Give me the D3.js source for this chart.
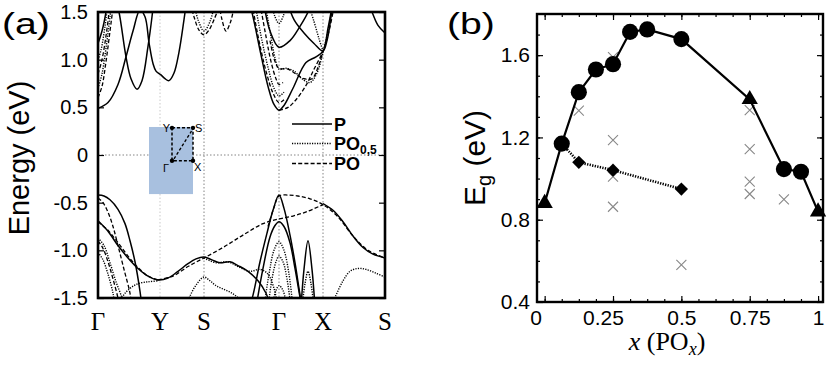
<!DOCTYPE html>
<html>
<head>
<meta charset="utf-8">
<title>Band structure and gap</title>
<script src="https://cdn.jsdelivr.net/npm/d3@7"></script>
<style>
  body { margin: 0; background: #fff; font-family: "Liberation Sans", Arial, sans-serif; }
</style>
</head>
<body>
<div id="chart"></div>
<script>
// ---------- panel (a): bands along the k-path (arb. path length) ----------
const kTicks  = [0, 62, 106, 181, 225, 287];
const kLabels = ["Γ", "Y", "S", "Γ", "X", "S"];
const eTicks  = [-1.5, -1.0, -0.5, 0, 0.5, 1.0, 1.5];

// P (solid)
const bandsP = [
  [[0,0.49],[10,0.55],[20,0.74],[28,1.03],[35,1.3],[42,1.52],[47,1.45],[51,1.18],[55,0.96],[58,0.88],[63,0.84],[67,0.8],[71,0.78],[76,0.86],[81,1.08],[86,1.42],[89,1.65]],
  [[16,1.7],[21,1.5],[28,1.03],[33,0.8],[39,0.69],[44,0.78],[50,1.14],[54,1.45],[56,1.65]],
  [[0,1.17],[4,1.3],[8,1.5],[10,1.65]],
  [[150,1.65],[155,1.45],[163,1.05],[170,0.72],[176,0.53],[181,0.47],[186,0.52],[195,0.7],[208,0.97],[218,1.03],[225,1.09],[230,1.33],[234,1.55],[236,1.65]],
  [[165,1.65],[172,1.3],[181,1.13],[192,1.2],[202,1.35],[210,1.5],[214,1.65]],
  [[188,1.65],[196,1.42],[206,1.28],[216,1.17],[225,1.09],[229,1.2],[233,1.45],[235,1.65]],
  [[268,1.65],[274,1.5],[280,1.36],[287,1.28]],
  [[0,-0.42],[6,-0.43],[12,-0.47],[20,-0.57],[27,-0.72],[32,-0.9],[37,-1.12],[42,-1.43],[44,-1.6]],
  [[0,-0.69],[10,-0.8],[20,-0.95],[30,-1.08],[40,-1.19],[50,-1.27],[60,-1.31],[70,-1.29],[80,-1.22],[90,-1.14],[98,-1.09],[106,-1.07],[114,-1.1],[122,-1.13],[132,-1.12],[140,-1.16],[150,-1.22],[160,-1.32],[168,-1.45],[174,-1.65]],
  [[150,-1.65],[155,-1.47],[162,-1.12],[169,-0.82],[175,-0.58],[181,-0.42],[186,-0.56],[192,-0.84],[197,-1.13],[201,-1.4],[204,-1.6]],
  [[158,-1.6],[165,-1.19],[172,-0.86],[177,-0.74],[181,-0.7],[186,-0.75],[192,-0.92],[197,-1.19],[203,-1.55],[205,-1.65]],
  [[203,-1.6],[206,-1.2],[210,-0.9],[214,-1.2],[217,-1.6]],
  [[225,-0.51],[235,-0.58],[245,-0.7],[255,-0.85],[265,-0.97],[275,-1.04],[287,-1.08]]
];

// PO0.5 (dotted)
const bandsPO05 = [
  [[0,0.7],[4,0.85],[8,1.12],[12,1.45],[14,1.65]],
  [[0,1.0],[3,1.1],[7,1.35],[10,1.6]],
  [[95,1.65],[100,1.42],[106,1.3],[112,1.4],[117,1.6]],
  [[156,1.65],[163,1.25],[170,0.92],[176,0.7],[181,0.62],[186,0.66]],
  [[166,1.65],[172,1.3],[177,1.02],[181,0.9],[188,0.91],[196,0.88],[204,0.8],[212,0.76],[219,0.86],[225,1.08],[231,1.35],[234,1.55]],
  [[210,1.6],[216,1.4],[221,1.22],[225,1.09]],
  [[172,1.65],[177,1.45],[181,1.38],[185,1.45],[190,1.65]],
  [[0,-0.87],[6,-0.95],[12,-1.13],[18,-1.33],[24,-1.5],[26,-1.6]],
  [[0,-1.02],[5,-1.1],[10,-1.25],[15,-1.45],[17,-1.6]],
  [[20,-1.65],[25,-1.48],[32,-1.4],[40,-1.35],[50,-1.33],[60,-1.32]],
  [[88,-1.6],[92,-1.48],[99,-1.35],[106,-1.28],[112,-1.32],[118,-1.37],[126,-1.41],[134,-1.45],[140,-1.5],[144,-1.6]],
  [[106,-1.08],[118,-1.13],[130,-1.12],[140,-1.17],[152,-1.22],[162,-1.2],[170,-1.25],[176,-1.4],[180,-1.6]],
  [[166,-1.6],[171,-1.25],[176,-1.0],[181,-0.91],[186,-1.0],[191,-1.25],[195,-1.6]],
  [[170,-1.6],[174,-1.3],[178,-1.12],[181,-1.06],[185,-1.12],[189,-1.3],[193,-1.6]],
  [[174,-1.6],[178,-1.42],[181,-1.37],[185,-1.42],[189,-1.6]],
  [[204,-1.6],[207,-1.35],[210,-1.22],[213,-1.35],[216,-1.6]],
  [[232,-1.6],[238,-1.47],[245,-1.32],[252,-1.22],[260,-1.19],[268,-1.2],[278,-1.24],[287,-1.28]]
];

// PO (dashed)
const bandsPO = [
  [[0,0.6],[4,0.72],[8,0.98],[12,1.3],[15,1.55],[16,1.65]],
  [[0,0.85],[4,1.0],[8,1.25],[11,1.5],[12,1.65]],
  [[91,1.65],[96,1.45],[101,1.31],[106,1.26],[111,1.31],[116,1.42],[121,1.55],[124,1.65]],
  [[120,1.65],[124,1.42],[128,1.3],[132,1.38],[135,1.5],[137,1.65]],
  [[153,1.65],[160,1.25],[168,0.88],[175,0.65],[181,0.55],[186,0.58]],
  [[161,1.65],[167,1.3],[173,0.98],[178,0.8],[181,0.74],[185,0.76]],
  [[181,0.47],[190,0.5],[198,0.58],[208,0.73],[216,0.9],[225,1.09],[231,1.3],[236,1.55],[238,1.65]],
  [[172,1.2],[177,0.98],[181,0.91],[190,0.9],[198,0.85],[206,0.8],[214,0.8],[220,0.92],[225,1.09]],
  [[0,-0.45],[5,-0.5],[10,-0.6],[15,-0.75],[20,-0.95],[26,-1.2],[32,-1.45],[34,-1.6]],
  [[0,-0.7],[10,-0.79],[20,-0.92],[30,-1.06],[40,-1.18],[50,-1.27],[60,-1.31]],
  [[0,-0.9],[5,-0.98],[10,-1.12],[15,-1.3],[20,-1.5],[22,-1.6]],
  [[60,-1.31],[75,-1.27],[90,-1.17],[106,-1.08],[125,-0.97],[145,-0.84],[165,-0.72],[181,-0.67],[195,-0.64],[210,-0.59],[225,-0.52]],
  [[170,-0.75],[176,-0.55],[181,-0.43],[190,-0.42],[200,-0.43],[212,-0.46],[225,-0.52],[240,-0.65],[255,-0.85],[270,-1.0],[287,-1.08]]
];

const legendNames = ["P", "PO", "PO"];
const legendSubs  = ["", "0,5", ""];

// ---------- panel (b): gap vs oxygen content ----------
const xGap      = [0, 0.0625, 0.125, 0.1875, 0.25, 0.3125, 0.375, 0.5, 0.75, 0.875, 0.9375, 1];
const eGap      = [0.88, 1.17, 1.42, 1.53, 1.556, 1.713, 1.725, 1.678, 1.385, 1.046, 1.033, 0.839];
const gapShape  = ["tri", "dot", "dot", "dot", "dot", "dot", "dot", "dot", "tri", "dot", "dot", "tri"];
const xDiamond  = [0.0625, 0.125, 0.25, 0.5];
const eDiamond  = [1.17, 1.079, 1.041, 0.949];
const xCross    = [0.125, 0.25, 0.25, 0.25, 0.25, 0.5, 0.75, 0.75, 0.75, 0.75, 0.875];
const eCross    = [1.33, 1.59, 1.187, 1.009, 0.863, 0.58, 1.333, 1.143, 0.985, 0.925, 0.899];
const xTicksB   = [0, 0.25, 0.5, 0.75, 1];
const eTicksB   = [0.4, 0.8, 1.2, 1.6];

const svg = d3.select("#chart").append("svg")
  .attr("width", 830).attr("height", 367)
  .attr("viewBox", [0, 0, 830, 367]);

// ===== (a) =====
const ka = {left: 98, right: 385, top: 12, bottom: 298};
const kx = d3.scaleLinear([0, 287], [ka.left, ka.right]);
const ey = d3.scaleLinear([-1.5, 1.5], [ka.bottom, ka.top]);

svg.append("defs").append("clipPath").attr("id", "clipA")
  .append("rect").attr("x", ka.left).attr("y", ka.top)
  .attr("width", ka.right - ka.left).attr("height", ka.bottom - ka.top);

const ga = svg.append("g");

// guide lines
ga.append("g").selectAll("line")
  .data(kTicks.slice(1, 5))
  .join("line")
  .attr("x1", d => kx(d)).attr("x2", d => kx(d))
  .attr("y1", ka.top).attr("y2", ka.bottom)
  .attr("stroke", (d, i) => i === 0 ? "#bbb" : "#666")
  .attr("stroke-width", 0.8)
  .attr("stroke-dasharray", "1.5,2");
ga.append("line")
  .attr("x1", ka.left).attr("x2", ka.right)
  .attr("y1", ey(0)).attr("y2", ey(0))
  .attr("stroke", "#666").attr("stroke-width", 0.8)
  .attr("stroke-dasharray", "1.5,2");

// Brillouin zone inset
const inset = ga.append("g");
inset.append("rect")
  .attr("x", kx(51)).attr("y", ey(0.294))
  .attr("width", kx(95) - kx(51)).attr("height", ey(-0.41) - ey(0.294))
  .attr("fill", "#a8c0df");
const bz = {Y: [74, 0.285], S: [95, 0.285], G: [74, -0.06], X: [95, -0.06]};
const bzPath = [bz.Y, bz.S, bz.X, bz.G, bz.Y];
inset.append("path")
  .attr("d", d3.line().x(d => kx(d[0])).y(d => ey(d[1]))(bzPath))
  .attr("fill", "none").attr("stroke", "#000")
  .attr("stroke-width", 1.5).attr("stroke-dasharray", "3,2");
inset.append("line")
  .attr("x1", kx(76)).attr("y1", ey(-0.04))
  .attr("x2", kx(93.5)).attr("y2", ey(0.25))
  .attr("stroke", "#000").attr("stroke-width", 1.3).attr("stroke-dasharray", "3,2");
inset.selectAll("circle")
  .data(Object.values(bz))
  .join("circle")
  .attr("cx", d => kx(d[0])).attr("cy", d => ey(d[1]))
  .attr("r", 2.2).attr("fill", "#000");
inset.append("text").attr("x", kx(72)).attr("y", ey(0.285) + 4)
  .attr("text-anchor", "end").attr("font-size", 11).text("Y");
inset.append("text").attr("x", kx(97)).attr("y", ey(0.285) + 4)
  .attr("font-size", 11).text("S");
inset.append("text").attr("x", kx(96)).attr("y", ey(-0.06) + 10)
  .attr("font-size", 11).text("X");
inset.append("text").attr("x", kx(71)).attr("y", ey(-0.06) + 11)
  .attr("text-anchor", "end").attr("font-size", 11).text("Γ");

// bands
const bandLine = d3.line()
  .x(d => kx(d[0])).y(d => ey(d[1]))
  .curve(d3.curveCatmullRom.alpha(0.5));
const bandGroups = [
  {data: bandsPO05, dash: "1.2,1.3", w: 1.4},
  {data: bandsPO, dash: "4,2.2", w: 1.3},
  {data: bandsP, dash: null, w: 1.5}
];
const gb = ga.append("g").attr("clip-path", "url(#clipA)");
bandGroups.forEach(s => {
  gb.append("g").selectAll("path")
    .data(s.data)
    .join("path")
    .attr("d", bandLine)
    .attr("fill", "none").attr("stroke", "#000")
    .attr("stroke-width", s.w)
    .attr("stroke-dasharray", s.dash);
});

// axes
const fmtA = d => d === 0 ? "0" : d.toFixed(1);
ga.append("g")
  .attr("transform", `translate(${ka.left},0)`)
  .call(d3.axisLeft(ey).tickValues(eTicks).tickFormat(fmtA).tickSize(-6).tickPadding(10))
  .call(g => g.select(".domain").remove())
  .call(g => g.selectAll("line").attr("stroke-width", 1.2))
  .call(g => g.selectAll("text").attr("font-size", 20)
    .attr("font-family", "Liberation Sans, Arial, sans-serif").attr("fill", "#000"));
ga.append("g")
  .attr("transform", `translate(${ka.right},0)`)
  .call(d3.axisRight(ey).tickValues(eTicks).tickFormat("").tickSize(-6))
  .call(g => g.select(".domain").remove())
  .call(g => g.selectAll("line").attr("stroke-width", 1.2));

ga.append("rect")
  .attr("x", ka.left).attr("y", ka.top)
  .attr("width", ka.right - ka.left).attr("height", ka.bottom - ka.top)
  .attr("fill", "none").attr("stroke", "#000").attr("stroke-width", 2.6);

ga.append("g").selectAll("text")
  .data(kTicks)
  .join("text")
  .attr("x", d => kx(d)).attr("y", 330)
  .attr("text-anchor", "middle")
  .attr("font-family", "Liberation Serif, Times New Roman, serif")
  .attr("font-size", 25)
  .text((d, i) => kLabels[i]);

ga.append("text")
  .attr("transform", "translate(29,158) rotate(-90)")
  .attr("text-anchor", "middle").attr("font-size", 29)
  .text("Energy (eV)");

ga.append("text")
  .attr("transform", "translate(2,34) scale(1.35,1)")
  .attr("font-size", 29).text("(a)");

// legend
const lg = ga.append("g");
const legendStyles = [null, "1.2,1.3", "4,2.2"];
const legendY = [124, 143.5, 163.5];
legendNames.forEach((name, i) => {
  lg.append("line")
    .attr("x1", 292).attr("x2", 332)
    .attr("y1", legendY[i]).attr("y2", legendY[i])
    .attr("stroke", "#000").attr("stroke-width", 1.3)
    .attr("stroke-dasharray", legendStyles[i]);
  const t = lg.append("text")
    .attr("x", 334).attr("y", legendY[i] + 6.5)
    .attr("font-size", 18).attr("font-weight", "bold").text(name);
  if (legendSubs[i]) {
    t.append("tspan").attr("dy", 4).attr("font-size", 12).text(legendSubs[i]);
  }
});

// ===== (b) =====
const kb = {left: 537, right: 823, top: 14, bottom: 302};
const xs = d3.scaleLinear([-0.028, 1.018], [kb.left, kb.right]);
const ys = d3.scaleLinear([0.4, 1.8], [kb.bottom, kb.top]);
const gbp = svg.append("g");

// crosses
gbp.append("g").selectAll("path")
  .data(d3.range(xCross.length))
  .join("path")
  .attr("d", i => {
    const x = xs(xCross[i]), y = ys(eCross[i]), r = 5;
    return `M${x - r},${y - r}L${x + r},${y + r}M${x - r},${y + r}L${x + r},${y - r}`;
  })
  .attr("stroke", "#888").attr("stroke-width", 1.1).attr("fill", "none");

// dotted diamond series
gbp.append("path")
  .attr("d", d3.line().x(i => xs(xDiamond[i])).y(i => ys(eDiamond[i]))(d3.range(xDiamond.length)))
  .attr("fill", "none").attr("stroke", "#000")
  .attr("stroke-width", 2.6).attr("stroke-dasharray", "1.3,1.3");
gbp.append("g").selectAll("path")
  .data(d3.range(1, xDiamond.length))
  .join("path")
  .attr("d", d3.symbol(d3.symbolSquare, 88))
  .attr("transform", i => `translate(${xs(xDiamond[i])},${ys(eDiamond[i])}) rotate(45)`)
  .attr("fill", "#000");

// solid gap series
gbp.append("path")
  .attr("d", d3.line().x(i => xs(xGap[i])).y(i => ys(eGap[i]))(d3.range(xGap.length)))
  .attr("fill", "none").attr("stroke", "#000").attr("stroke-width", 2.2);
gbp.append("g").selectAll("path")
  .data(d3.range(xGap.length))
  .join("path")
  .attr("d", i => gapShape[i] === "tri"
    ? d3.symbol(d3.symbolTriangle, 115)()
    : d3.symbol(d3.symbolCircle, 205)())
  .attr("transform", i => `translate(${xs(xGap[i])},${ys(eGap[i])})`)
  .attr("fill", "#000");

// axes (b)
const styleTicks = g => g.call(g => g.select(".domain").remove())
  .call(g => g.selectAll("line").attr("stroke-width", 1.2));
const fontB = g => g.selectAll("text").attr("font-size", 21)
  .attr("font-family", "Liberation Sans, Arial, sans-serif").attr("fill", "#000");
const eMinor = d3.range(5, 18).map(d => d / 10);
const xMinor = d3.range(0, 17).map(d => d / 16);

gbp.append("g").attr("transform", `translate(${kb.left},0)`)
  .call(d3.axisLeft(ys).tickValues(eMinor).tickFormat("").tickSize(-3)).call(styleTicks);
gbp.append("g").attr("transform", `translate(${kb.right},0)`)
  .call(d3.axisRight(ys).tickValues(eMinor).tickFormat("").tickSize(-3)).call(styleTicks);
gbp.append("g").attr("transform", `translate(${kb.left},0)`)
  .call(d3.axisLeft(ys).tickValues(eTicksB).tickFormat(d => d.toFixed(1)).tickSize(-6).tickPadding(7))
  .call(styleTicks).call(fontB);
gbp.append("g").attr("transform", `translate(${kb.right},0)`)
  .call(d3.axisRight(ys).tickValues(eTicksB).tickFormat("").tickSize(-6)).call(styleTicks);

gbp.append("g").attr("transform", `translate(0,${kb.bottom})`)
  .call(d3.axisBottom(xs).tickValues(xMinor).tickFormat("").tickSize(-3)).call(styleTicks);
gbp.append("g").attr("transform", `translate(0,${kb.top})`)
  .call(d3.axisTop(xs).tickValues(xMinor).tickFormat("").tickSize(-3)).call(styleTicks);
gbp.append("g").attr("transform", `translate(0,${kb.bottom})`)
  .call(d3.axisBottom(xs).tickValues(xTicksB).tickFormat(d => String(d)).tickSize(-6).tickPadding(8))
  .call(styleTicks).call(fontB)
  // the first two labels sit a little left of their ticks in the original
  .call(g => g.selectAll("text").attr("dx", d => d === 0 ? -9 : d === 0.25 ? -10 : 0));
gbp.append("g").attr("transform", `translate(0,${kb.top})`)
  .call(d3.axisTop(xs).tickValues(xTicksB).tickFormat("").tickSize(-6)).call(styleTicks);

gbp.append("rect")
  .attr("x", kb.left).attr("y", kb.top)
  .attr("width", kb.right - kb.left).attr("height", kb.bottom - kb.top)
  .attr("fill", "none").attr("stroke", "#000").attr("stroke-width", 2.4);

const eg = gbp.append("text")
  .attr("transform", "translate(485,158) rotate(-90)")
  .attr("text-anchor", "middle").attr("font-size", 30);
eg.append("tspan").text("E");
eg.append("tspan").attr("dy", 6).attr("font-size", 20).text("g");
eg.append("tspan").attr("dy", -6).text(" (eV)");

const xl = gbp.append("text")
  .attr("x", 667).attr("y", 350).attr("text-anchor", "middle")
  .attr("font-family", "Liberation Serif, Times New Roman, serif").attr("font-size", 26);
xl.append("tspan").attr("font-style", "italic").text("x");
xl.append("tspan").text(" (PO");
xl.append("tspan").attr("font-style", "italic").attr("font-size", 18).attr("dy", 5).text("x");
xl.append("tspan").attr("dy", -5).text(")");

gbp.append("text")
  .attr("transform", "translate(447,34) scale(1.35,1)")
  .attr("font-size", 29).text("(b)");
</script>
</body>
</html>
